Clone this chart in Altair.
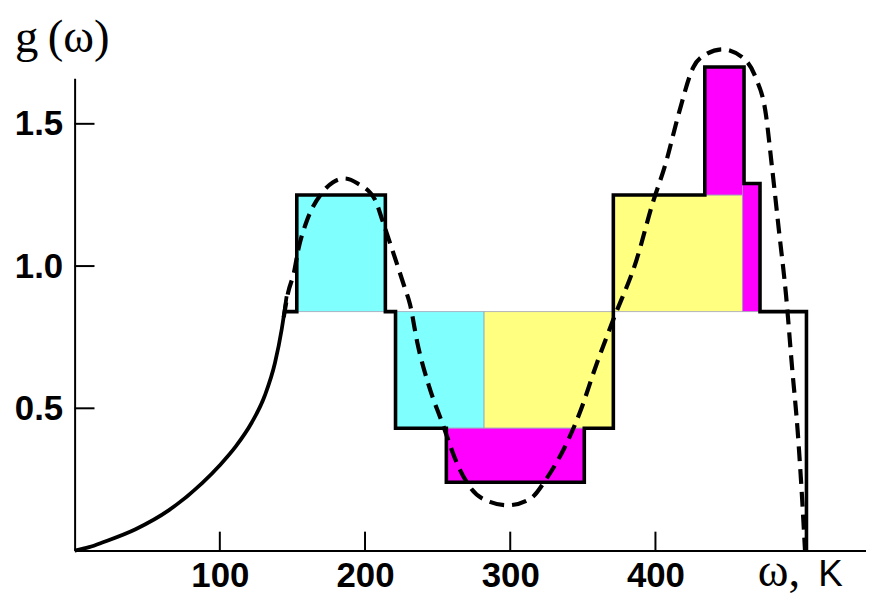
import altair as alt
import pandas as pd

# Histogram outline (step-after vertices): omega, g
step_x = [145, 153, 214, 221, 256, 351, 371, 434, 461, 472, 504]
step_y = [0.84, 1.25, 0.84, 0.43, 0.24, 0.43, 1.25, 1.70, 1.29, 0.84, 0.0]

# Coloured blocks
block_x0 = [153, 221, 282, 371, 256, 434, 460]
block_x1 = [214, 282, 371, 460, 351, 461, 472]
block_y0 = [0.84, 0.43, 0.43, 0.84, 0.24, 1.25, 0.84]
block_y1 = [1.25, 0.84, 0.84, 1.25, 0.43, 1.70, 1.29]
block_kind = ["cyan", "cyan", "yellow", "yellow", "magenta", "magenta", "magenta"]

# Solid low-frequency curve
solid_x = [0, 10, 20, 42, 65, 88, 100, 111, 122, 131, 138, 142.6, 146]
solid_y = [0.0, 0.012, 0.03, 0.075, 0.142, 0.238, 0.3, 0.366, 0.45, 0.545,
           0.66, 0.777, 0.894]

# Dashed fitted curve
dash_x = [144, 147, 151, 154, 160, 170, 178, 186, 195, 207, 212, 218, 227, 231,
          236, 244, 253, 264, 273, 286, 298, 314, 325, 337, 348, 359, 371, 387,
          398, 407, 416, 426, 435, 446, 460, 469, 476, 480, 485, 490, 494, 498,
          501, 503]
dash_y = [0.82, 0.906, 0.976, 1.057, 1.16, 1.255, 1.295, 1.308, 1.29, 1.232, 1.16,
          1.069, 0.929, 0.865, 0.731, 0.579, 0.451, 0.299, 0.218, 0.171, 0.159,
          0.183, 0.253, 0.358, 0.486, 0.649, 0.812, 1.022, 1.22, 1.36, 1.535,
          1.698, 1.745, 1.762, 1.733, 1.663, 1.535, 1.36, 1.127, 0.894, 0.649,
          0.416, 0.183, 0.0]

x_ticks = [100, 200, 300, 400]
y_ticks = [0.5, 1.0, 1.5]

W, H = 796, 475
xs = alt.Scale(domain=[0, 545], nice=False, zero=False)
ys = alt.Scale(domain=[0, 1.66], nice=False, zero=False)

LABEL_FONT = "Liberation Sans"

blocks = pd.DataFrame({"x0": block_x0, "x1": block_x1, "y0": block_y0,
                       "y1": block_y1, "kind": block_kind})
step = pd.DataFrame({"x": step_x, "y": step_y})
solid = pd.DataFrame({"x": solid_x, "y": solid_y})
dash = pd.DataFrame({"x": dash_x, "y": dash_y})

rects = alt.Chart(blocks).mark_rect(stroke="#a0a0b8", strokeWidth=0.8).encode(
    x=alt.X("x0:Q", scale=xs,
            axis=alt.Axis(values=x_ticks, ticks=False, grid=False, title=None,
                          domainColor="black", domainWidth=2,
                          labelFont=LABEL_FONT, labelFontSize=35,
                          labelFontWeight="bold", labelColor="black",
                          labelPadding=8)),
    x2="x1:Q",
    y=alt.Y("y0:Q", scale=ys,
            axis=alt.Axis(values=y_ticks, ticks=False, grid=False, title=None,
                          format=".1f", domainColor="black", domainWidth=2,
                          labelFont=LABEL_FONT, labelFontSize=35,
                          labelFontWeight="bold", labelColor="black",
                          labelPadding=12)),
    y2="y1:Q",
    color=alt.Color("kind:N", legend=None,
                    scale=alt.Scale(domain=["cyan", "yellow", "magenta"],
                                    range=["#80FFFF", "#FFFF80", "#FF00FF"])),
)

outline = alt.Chart(step).mark_line(
    color="black", strokeWidth=3.6, interpolate="step-after", strokeJoin="miter"
).encode(x=alt.X("x:Q", scale=xs), y=alt.Y("y:Q", scale=ys))

solid_line = alt.Chart(solid).mark_line(
    color="black", strokeWidth=3.8, interpolate="monotone"
).encode(x=alt.X("x:Q", scale=xs), y=alt.Y("y:Q", scale=ys))

dash_line = alt.Chart(dash).mark_line(
    color="black", strokeWidth=4.2, strokeDash=[15, 8], interpolate="monotone"
).encode(x=alt.X("x:Q", scale=xs), y=alt.Y("y:Q", scale=ys))

xt = alt.Chart(pd.DataFrame({"v": x_ticks})).mark_rule(color="black", strokeWidth=2).encode(
    x=alt.X("v:Q", scale=xs), y=alt.value(H), y2=alt.value(H - 19))
yt = alt.Chart(pd.DataFrame({"v": y_ticks})).mark_rule(color="black", strokeWidth=2).encode(
    y=alt.Y("v:Q", scale=ys), x=alt.value(0), x2=alt.value(20))

ytitle = alt.Chart(pd.DataFrame({"t": ["g\u2009(ω)"]})).mark_text(
    font="Liberation Serif", fontSize=47, align="left", baseline="alphabetic",
    color="black").encode(text="t:N", x=alt.value(-60), y=alt.value(-26))
xtitle1 = alt.Chart(pd.DataFrame({"t": ["ω,"]})).mark_text(
    font="Liberation Serif", fontSize=47, align="left", baseline="alphabetic",
    color="black").encode(text="t:N", x=alt.value(687), y=alt.value(511))
xtitle2 = alt.Chart(pd.DataFrame({"t": ["K"]})).mark_text(
    font="Liberation Sans", fontSize=37, align="left", baseline="alphabetic",
    color="black").encode(text="t:N", x=alt.value(748), y=alt.value(511))

chart = alt.layer(rects, outline, solid_line, dash_line, xt, yt,
                  ytitle, xtitle1, xtitle2).properties(
    width=W, height=H,
    autosize=alt.AutoSizeParams(type="none"),
    padding={"left": 67, "top": 69, "right": 0, "bottom": 45},
    background="white",
).configure_view(stroke=None)

chart.save("out.html", embed_options={"renderer": "svg", "actions": False})
